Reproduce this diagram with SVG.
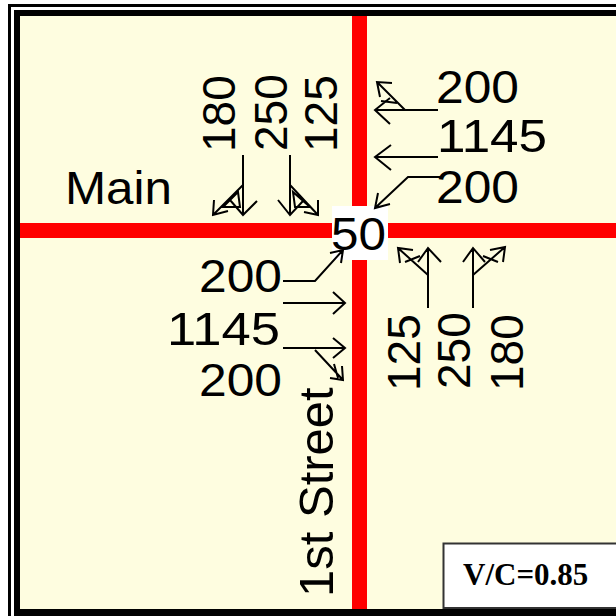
<svg xmlns="http://www.w3.org/2000/svg" width="616" height="616" viewBox="0 0 616 616">
<style>
.num{font-family:"Liberation Sans",Arial,sans-serif;font-size:46px;fill:#000}
.arr{stroke:#000;stroke-width:2;fill:none;stroke-linejoin:miter}
.road{fill:#ff0000}
</style>
<rect width="616" height="616" fill="#ffffff"/>
<path d="M9.5,616 V5.5 H616" fill="none" stroke="#000" stroke-width="3"/>
<rect x="14" y="10" width="602" height="606" fill="#000"/>
<rect x="20" y="16" width="596" height="593" fill="#fefde0"/>
<g id="roads">
<rect class="road" x="20" y="223" width="596" height="15"/>
<rect class="road" x="352" y="16" width="15" height="593"/>
</g>
<g id="center-node">
<rect x="332" y="206" width="56" height="54" fill="#fff"/>
<text class="num" x="331" y="250" textLength="55" lengthAdjust="spacingAndGlyphs">50</text>
</g>
<g id="street-labels">
<text class="num" x="65" y="204" textLength="107" lengthAdjust="spacingAndGlyphs">Main</text>
<text class="num" style="font-size:49px" transform="translate(333,597) rotate(-90)">1st Street</text>
</g>
<g id="southbound">
<text class="num" transform="translate(235,152) rotate(-90)">180</text>
<text class="num" transform="translate(287,151) rotate(-90)">250</text>
<text class="num" transform="translate(337,152) rotate(-90)">125</text>
</g>
<g id="westbound">
<text class="num" x="436" y="103" textLength="83" lengthAdjust="spacingAndGlyphs">200</text>
<text class="num" x="437" y="152" textLength="110" lengthAdjust="spacingAndGlyphs">1145</text>
<text class="num" x="436" y="203" textLength="83" lengthAdjust="spacingAndGlyphs">200</text>
</g>
<g id="eastbound">
<text class="num" x="199" y="292" textLength="83" lengthAdjust="spacingAndGlyphs">200</text>
<text class="num" x="167" y="345" textLength="113" lengthAdjust="spacingAndGlyphs">1145</text>
<text class="num" x="199" y="396" textLength="83" lengthAdjust="spacingAndGlyphs">200</text>
</g>
<g id="northbound">
<text class="num" transform="translate(420,391) rotate(-90)">125</text>
<text class="num" transform="translate(470,389) rotate(-90)">250</text>
<text class="num" transform="translate(523,391) rotate(-90)">180</text>
</g>
<g id="connectors">
<path class="arr" d="M243,155 V215 M230,200 L243,215 L257,201 M243,185 L213,215 M214,200 L213,215 L228,211 M223,207 L238,192 L240,207 Z"/>
<path class="arr" d="M290,155 V215 M278,200 L290,215 L303,201 M290,185 L318,215 M318,200 L318,215 L304,212 M293,192 L310,207 L295,207 Z"/>
<path class="arr" d="M438,110 H375 M390,98 L375,110 L390,124 M405,110 L377,82 M392,83 L377,82 L380,97 M381,101 L397,103"/>
<path class="arr" d="M438,157 H375 M391,145 L375,157 L391,170"/>
<path class="arr" d="M440,177 H408 L375,208 M378,193 L375,208 L390,204"/>
<path class="arr" d="M283,281 H315 L343,250 M330,253 L343,250 L341,263"/>
<path class="arr" d="M283,303 H345 M333,292 L345,303 L333,314"/>
<path class="arr" d="M283,348 H345 M333,338 L345,348 L333,358 M315,350 L343,380 M342,366 L343,380 L330,378 M334,364 L338,378"/>
<path class="arr" d="M428,308 V248 M418,262 L428,248 L441,262 M428,275 L398,248 M413,250 L398,248 L400,263 M405,262 L420,256"/>
<path class="arr" d="M473,308 V248 M463,262 L473,248 L485,262 M473,275 L505,247 M490,250 L505,247 L503,262 M483,256 L498,262"/>
</g>
<g id="vc-box">
<rect x="443.5" y="543.5" width="180" height="64.5" fill="#fff" stroke="#333" stroke-width="2"/>
<text x="463" y="585" style="font-family:'Liberation Serif','Times New Roman',serif;font-weight:bold;font-size:31px">V/C=0.85</text>
</g>
</svg>
